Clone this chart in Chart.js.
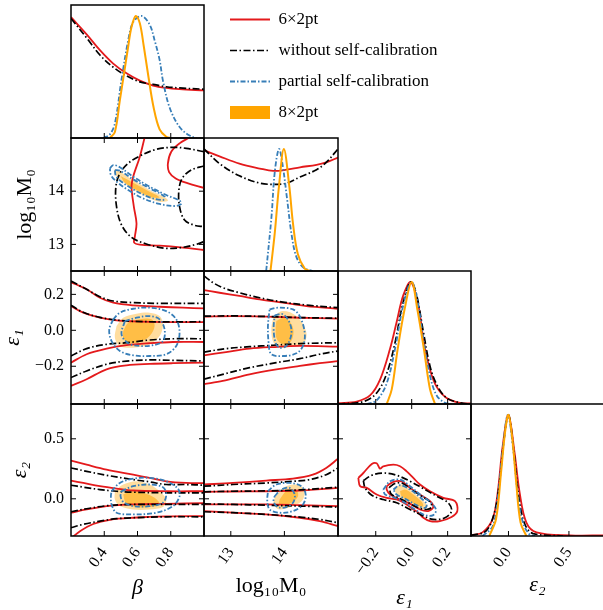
<!DOCTYPE html>
<html>
<head>
<meta charset="utf-8">
<script src="https://cdn.jsdelivr.net/npm/chart.js@4.4.1/dist/chart.umd.min.js"></script>
<style>
  body { margin: 0; width: 603px; height: 610px; overflow: hidden; position: relative; background: #fff; }
  canvas { position: absolute; }
</style>
</head>
<body>
<script>
// axes: beta, log10 M0, eps1, eps2
const axisNames = ['β', 'log₁₀M₀', 'ε₁', 'ε₂'];
const axisRanges = [[0.2, 1.0], [12.5, 15.0], [-0.41, 0.33], [-0.31, 0.79]];
const axisTicks = [[0.4, 0.6, 0.8], [13, 14], [-0.2, 0.0, 0.2], [0.0, 0.5]];
const tickDecimals = [1, 0, 1, 1];
const legendLabels = ['6×2pt', 'without self-calibration', 'partial self-calibration', '8×2pt'];

// 1D marginals [value, normalised density]
const betaRed = [[0.2,0.99],[0.294,0.85],[0.374,0.72],[0.454,0.61],[0.534,0.53],[0.614,0.47],[0.693,0.43],[0.773,0.41],[0.853,0.40],[1.0,0.39]];
const betaBlack = [[0.2,0.98],[0.294,0.82],[0.374,0.68],[0.454,0.58],[0.534,0.51],[0.614,0.46],[0.693,0.44],[0.773,0.42],[0.853,0.41],[1.0,0.40]];
const betaBlue = [[0.394,0],[0.434,0.03],[0.464,0.12],[0.504,0.48],[0.544,0.8],[0.574,0.95],[0.624,1.0],[0.673,0.93],[0.703,0.8],[0.733,0.64],[0.753,0.47],[0.793,0.25],[0.853,0.09],[0.913,0.02],[0.953,0]];
const betaOrange = [[0.434,0],[0.464,0.05],[0.494,0.31],[0.518,0.52],[0.544,0.75],[0.564,0.91],[0.59,1.0],[0.614,0.94],[0.638,0.75],[0.666,0.5],[0.697,0.25],[0.733,0.07],[0.773,0.01],[0.803,0]];

const logmRed = [[12.5,0.99],[12.79,0.94],[13.16,0.88],[13.54,0.84],[13.79,0.82],[14.04,0.83],[14.29,0.85],[14.6,0.87],[14.78,0.89],[15.0,0.93]];
const logmBlack = [[12.5,1.0],[12.79,0.88],[13.16,0.78],[13.54,0.72],[13.79,0.71],[14.04,0.72],[14.29,0.77],[14.6,0.83],[14.78,0.89],[15.0,1.0]];
const logmBlue = [[13.66,0],[13.76,0.45],[13.82,0.81],[13.9,1.0],[13.97,0.86],[14.05,0.59],[14.13,0.31],[14.22,0.12],[14.35,0.03],[14.53,0]];
const logmOrange = [[13.74,0],[13.82,0.31],[13.9,0.7],[13.99,1.0],[14.09,0.7],[14.16,0.39],[14.25,0.14],[14.38,0.02],[14.47,0]];

const e1Red = [[-0.41,0.006],[-0.306,0.02],[-0.232,0.07],[-0.176,0.2],[-0.121,0.45],[-0.084,0.67],[-0.047,0.89],[-0.005,1.0],[0.037,0.81],[0.065,0.53],[0.102,0.28],[0.139,0.14],[0.194,0.05],[0.268,0.01],[0.335,0.005]];
const e1Black = [[-0.41,0],[-0.269,0.02],[-0.195,0.09],[-0.139,0.25],[-0.093,0.5],[-0.056,0.78],[-0.019,0.97],[0,1.0],[0.028,0.89],[0.065,0.59],[0.102,0.31],[0.139,0.16],[0.194,0.05],[0.287,0.005],[0.335,0]];
const e1Blue = [[-0.25,0],[-0.195,0.03],[-0.139,0.17],[-0.093,0.45],[-0.056,0.75],[-0.019,0.96],[0.002,1.0],[0.031,0.86],[0.065,0.53],[0.102,0.23],[0.139,0.07],[0.185,0.01],[0.22,0]];
const e1Orange = [[-0.139,0],[-0.111,0.12],[-0.078,0.45],[-0.039,0.78],[0,1.0],[0.031,0.78],[0.068,0.45],[0.102,0.12],[0.13,0]];

const e2Red = [[-0.31,0.005],[-0.215,0.03],[-0.131,0.14],[-0.089,0.36],[-0.047,0.75],[0,1.0],[0.05,0.69],[0.092,0.36],[0.148,0.11],[0.232,0.03],[0.51,0.005],[0.79,0.005]];
const e2Black = [[-0.31,0.005],[-0.187,0.04],[-0.117,0.19],[-0.075,0.44],[-0.039,0.78],[0,1.0],[0.045,0.69],[0.084,0.33],[0.134,0.1],[0.204,0.02],[0.45,0]];
const e2Blue = [[-0.215,0],[-0.131,0.08],[-0.089,0.31],[-0.047,0.72],[-0.005,1.0],[0.042,0.69],[0.078,0.33],[0.12,0.11],[0.176,0.01],[0.22,0]];
const e2Orange = [[-0.159,0],[-0.103,0.14],[-0.061,0.53],[-0.028,0.86],[0,1.0],[0.031,0.81],[0.064,0.44],[0.1,0.11],[0.148,0]];

// 2D contours (95% and 68%)
const betaLogmRed = [
  [[0.643,15.01],[0.614,14.649],[0.574,14.273],[0.564,14.085],[0.578,13.709],[0.594,13.396],[0.584,13.145],[0.58,13.033],[0.614,12.995],[0.733,12.976],[0.873,12.939],[1.0,12.895]],
  [[0.913,15.01],[0.853,14.899],[0.803,14.743],[0.783,14.524],[0.79,14.36],[0.83,14.24],[0.9,14.15],[1.0,14.06]]
];
const betaLogmBlack = [
  [[1.0,14.743],[0.893,14.806],[0.813,14.825],[0.713,14.787],[0.614,14.662],[0.544,14.524],[0.494,14.336],[0.47,14.085],[0.474,13.709],[0.504,13.365],[0.564,13.133],[0.653,13.008],[0.773,12.926],[0.873,12.945],[0.953,13.001],[1.0,13.052]],
  [[1.0,14.474],[0.923,14.398],[0.869,14.242],[0.849,14.022],[0.853,13.709],[0.883,13.459],[0.943,13.359],[1.0,13.333]]
];
const betaLogmBlue = [
  [[0.434,14.43],[0.454,14.492],[0.494,14.449],[0.574,14.273],[0.673,14.085],[0.773,13.929],[0.853,13.822],[0.863,13.76],[0.823,13.722],[0.733,13.76],[0.633,13.866],[0.544,14.022],[0.474,14.179],[0.44,14.305],[0.434,14.43]],
  [[0.464,14.398],[0.494,14.386],[0.574,14.223],[0.673,14.054],[0.763,13.897],[0.753,13.835],[0.673,13.885],[0.574,14.035],[0.504,14.179],[0.47,14.286],[0.464,14.398]]
];
const betaLogmOrange = [
  [[0.458,14.411],[0.494,14.367],[0.574,14.21],[0.673,14.022],[0.763,13.885],[0.783,13.822],[0.733,13.803],[0.653,13.897],[0.564,14.054],[0.498,14.21],[0.464,14.323],[0.458,14.411]],
  [[0.498,14.286],[0.574,14.16],[0.673,13.991],[0.733,13.885],[0.683,13.885],[0.594,14.022],[0.524,14.16],[0.498,14.286]]
];

const betaE1Red = [
  [[0.2,0.268],[0.294,0.228],[0.374,0.181],[0.454,0.154],[0.574,0.139],[0.733,0.131],[0.873,0.126],[1.0,0.122]],
  [[0.2,0.135],[0.274,0.098],[0.374,0.07],[0.474,0.055],[0.574,0.05],[0.773,0.046],[1.0,0.046]],
  [[0.2,-0.18],[0.294,-0.133],[0.414,-0.102],[0.534,-0.083],[0.673,-0.072],[0.813,-0.065],[1.0,-0.065]],
  [[0.2,-0.309],[0.294,-0.272],[0.414,-0.217],[0.534,-0.195],[0.673,-0.187],[0.813,-0.183],[1.0,-0.18]]
];
const betaE1Black = [
  [[0.2,0.274],[0.294,0.228],[0.374,0.187],[0.454,0.163],[0.574,0.154],[0.733,0.15],[1.0,0.15]],
  [[0.2,0.14],[0.274,0.1],[0.374,0.072],[0.474,0.057],[0.574,0.05],[0.773,0.047],[1.0,0.048]],
  [[0.2,-0.143],[0.294,-0.102],[0.414,-0.078],[0.534,-0.069],[0.673,-0.054],[0.813,-0.047],[1.0,-0.047]],
  [[0.2,-0.263],[0.294,-0.226],[0.414,-0.189],[0.534,-0.171],[0.673,-0.165],[0.813,-0.167],[1.0,-0.171]]
];
const betaE1Blue = [
  [[0.454,0.061],[0.494,0.098],[0.574,0.12],[0.673,0.126],[0.773,0.107],[0.833,0.061],[0.853,-0.013],[0.833,-0.087],[0.773,-0.133],[0.673,-0.143],[0.574,-0.139],[0.494,-0.115],[0.444,-0.06],[0.43,0.005],[0.454,0.061]],
  [[0.524,0.052],[0.594,0.07],[0.673,0.079],[0.733,0.061],[0.763,0.005],[0.753,-0.06],[0.693,-0.083],[0.614,-0.087],[0.544,-0.072],[0.504,-0.022],[0.524,0.052]]
];
const betaE1Orange = [
  [[0.474,0.024],[0.514,0.07],[0.594,0.092],[0.673,0.098],[0.733,0.079],[0.753,0.033],[0.733,-0.032],[0.673,-0.078],[0.574,-0.097],[0.494,-0.087],[0.464,-0.041],[0.474,0.024]],
  [[0.514,-0.004],[0.544,0.042],[0.614,0.061],[0.683,0.061],[0.703,0.024],[0.673,-0.032],[0.614,-0.065],[0.544,-0.069],[0.514,-0.041],[0.514,-0.004]]
];

const logmE1Red = [
  [[12.5,0.224],[12.79,0.209],[13.16,0.191],[13.54,0.172],[13.97,0.154],[14.41,0.135],[15.0,0.12]],
  [[12.5,0.076],[13.04,0.079],[13.66,0.076],[14.29,0.07],[15.0,0.065]],
  [[12.5,-0.139],[12.91,-0.121],[13.35,-0.102],[13.79,-0.093],[14.29,-0.087],[15.0,-0.091]],
  [[12.5,-0.3],[12.85,-0.282],[13.35,-0.245],[13.85,-0.217],[14.29,-0.198],[14.66,-0.183],[15.0,-0.171]]
];
const logmE1Black = [
  [[12.5,0.302],[12.67,0.265],[12.85,0.237],[13.16,0.209],[13.54,0.181],[13.97,0.157],[14.47,0.139],[15.0,0.126]],
  [[12.5,0.079],[13.04,0.08],[13.66,0.077],[14.29,0.071],[15.0,0.067]],
  [[12.5,-0.121],[12.91,-0.102],[13.35,-0.091],[13.79,-0.083],[14.29,-0.074],[15.0,-0.069]],
  [[12.5,-0.272],[12.85,-0.245],[13.35,-0.208],[13.85,-0.18],[14.29,-0.158],[14.66,-0.133],[15.0,-0.115]]
];
const logmE1Blue = [
  [[13.724,0.116],[13.88,0.126],[14.16,0.116],[14.285,0.079],[14.379,-0.013],[14.347,-0.087],[14.223,-0.128],[13.974,-0.143],[13.756,-0.133],[13.706,-0.069],[13.693,0.024],[13.724,0.116]],
  [[13.818,0.083],[13.974,0.089],[14.098,0.042],[14.129,-0.022],[14.036,-0.087],[13.911,-0.097],[13.836,-0.069],[13.799,0.005],[13.818,0.083]]
];
const logmE1Orange = [
  [[13.799,0.079],[13.974,0.107],[14.223,0.079],[14.41,-0.013],[14.347,-0.078],[14.16,-0.087],[13.942,-0.097],[13.799,-0.069],[13.756,0.005],[13.799,0.079]],
  [[13.849,0.052],[14.005,0.07],[14.16,0.015],[14.129,-0.06],[13.974,-0.078],[13.861,-0.05],[13.836,0.005],[13.849,0.052]]
];

const betaE2Red = [
  [[0.2,0.318],[0.294,0.284],[0.414,0.243],[0.574,0.201],[0.673,0.174],[0.773,0.146],[0.893,0.132],[1.0,0.13]],
  [[0.2,0.152],[0.274,0.132],[0.374,0.105],[0.474,0.085],[0.574,0.069],[0.773,0.063],[1.0,0.063]],
  [[0.2,-0.116],[0.294,-0.089],[0.414,-0.061],[0.574,-0.047],[0.773,-0.042],[1.0,-0.036]],
  [[0.2,-0.33],[0.254,-0.27],[0.334,-0.21],[0.434,-0.175],[0.574,-0.158],[0.773,-0.147],[1.0,-0.144]]
];
const betaE2Black = [
  [[0.2,0.257],[0.294,0.229],[0.414,0.196],[0.574,0.16],[0.673,0.141],[0.773,0.119],[0.893,0.119],[1.0,0.113]],
  [[0.2,0.113],[0.274,0.097],[0.374,0.077],[0.474,0.063],[0.574,0.055],[0.773,0.05],[1.0,0.05]],
  [[0.2,-0.108],[0.294,-0.083],[0.414,-0.058],[0.574,-0.047],[0.773,-0.047],[1.0,-0.047]],
  [[0.2,-0.241],[0.274,-0.213],[0.374,-0.186],[0.474,-0.166],[0.574,-0.158],[0.773,-0.15],[1.0,-0.15]]
];
const betaE2Blue = [
  [[0.444,0.063],[0.494,0.132],[0.574,0.168],[0.673,0.174],[0.773,0.146],[0.843,0.085],[0.853,0.022],[0.813,-0.061],[0.713,-0.116],[0.574,-0.13],[0.474,-0.116],[0.444,-0.047],[0.44,0.022],[0.444,0.063]],
  [[0.504,0.063],[0.574,0.105],[0.673,0.119],[0.753,0.097],[0.773,0.036],[0.753,-0.033],[0.673,-0.061],[0.574,-0.061],[0.514,-0.025],[0.498,0.022],[0.504,0.063]]
];
const betaE2Orange = [
  [[0.464,0.063],[0.514,0.119],[0.594,0.146],[0.673,0.119],[0.733,0.063],[0.773,-0.006],[0.753,-0.069],[0.673,-0.089],[0.574,-0.089],[0.494,-0.061],[0.464,-0.006],[0.464,0.063]],
  [[0.514,0.036],[0.564,0.063],[0.633,0.05],[0.703,0.008],[0.733,-0.047],[0.673,-0.069],[0.594,-0.069],[0.53,-0.033],[0.514,0.036]]
];

const logmE2Red = [
  [[12.5,0.119],[13.04,0.132],[13.66,0.152],[14.16,0.168],[14.53,0.201],[14.78,0.257],[15.0,0.334]],
  [[12.5,0.058],[13.04,0.061],[13.66,0.063],[14.29,0.069],[15.0,0.091]],
  [[12.5,-0.047],[13.04,-0.047],[13.66,-0.047],[14.29,-0.053],[15.0,-0.061]],
  [[12.5,-0.102],[13.04,-0.116],[13.66,-0.13],[14.29,-0.158],[14.66,-0.186],[15.0,-0.227]]
];
const logmE2Black = [
  [[12.5,0.105],[13.04,0.119],[13.66,0.132],[14.16,0.146],[14.47,0.16],[14.78,0.201],[15.0,0.257]],
  [[12.5,0.058],[13.04,0.063],[13.66,0.066],[14.29,0.074],[15.0,0.097]],
  [[12.5,-0.042],[13.04,-0.047],[13.66,-0.053],[14.29,-0.061],[15.0,-0.069]],
  [[12.5,-0.108],[13.04,-0.116],[13.66,-0.13],[14.29,-0.152],[14.66,-0.172],[15.0,-0.199]]
];
const logmE2Blue = [
  [[13.693,0.063],[13.849,0.119],[14.098,0.132],[14.316,0.105],[14.397,0.036],[14.347,-0.047],[14.16,-0.102],[13.911,-0.116],[13.724,-0.089],[13.681,-0.019],[13.693,0.063]],
  [[13.818,0.022],[13.943,0.077],[14.098,0.091],[14.192,0.036],[14.16,-0.033],[14.036,-0.069],[13.88,-0.069],[13.799,-0.025],[13.818,0.022]]
];
const logmE2Orange = [
  [[13.818,0.008],[13.974,0.091],[14.192,0.119],[14.36,0.085],[14.347,-0.006],[14.16,-0.061],[13.911,-0.089],[13.799,-0.047],[13.818,0.008]],
  [[13.911,-0.006],[14.036,0.063],[14.223,0.069],[14.254,0.022],[14.129,-0.033],[13.974,-0.061],[13.899,-0.042],[13.911,-0.006]]
];

const e1E2Red = [
  [[-0.297,0.174],[-0.269,0.215],[-0.222,0.29],[-0.195,0.296],[-0.176,0.251],[-0.158,0.271],[-0.102,0.284],[-0.065,0.271],[-0.028,0.229],[0.009,0.174],[0.046,0.119],[0.102,0.063],[0.176,0.008],[0.241,-0.02],[0.254,-0.102],[0.222,-0.152],[0.157,-0.186],[0.102,-0.186],[0.065,-0.158],[0.037,-0.116],[0.009,-0.089],[-0.028,-0.047],[-0.084,-0.006],[-0.139,0.008],[-0.195,0.036],[-0.25,0.091],[-0.287,0.105],[-0.297,0.174]],
  [[-0.139,0.105],[-0.102,0.141],[-0.056,0.146],[-0.009,0.091],[0.046,0.036],[0.102,-0.02],[0.12,-0.069],[0.092,-0.102],[0.046,-0.089],[-0.009,-0.042],[-0.065,-0.006],[-0.12,0.036],[-0.139,0.077],[-0.139,0.105]]
];
const e1E2Black = [
  [[-0.269,0.152],[-0.222,0.196],[-0.158,0.215],[-0.084,0.196],[-0.009,0.146],[0.064,0.085],[0.139,0.022],[0.203,-0.033],[0.222,-0.102],[0.185,-0.158],[0.12,-0.172],[0.055,-0.136],[-0.009,-0.089],[-0.084,-0.033],[-0.158,-0.006],[-0.222,0.03],[-0.259,0.091],[-0.269,0.152]],
  [[-0.124,0.097],[-0.093,0.127],[-0.056,0.132],[0,0.077],[0.055,0.022],[0.102,-0.025],[0.111,-0.069],[0.083,-0.089],[0.037,-0.075],[-0.019,-0.033],[-0.074,0.008],[-0.115,0.041],[-0.124,0.097]]
];
const e1E2Blue = [
  [[-0.158,0.077],[-0.12,0.146],[-0.065,0.16],[-0.009,0.105],[0.046,0.036],[0.102,-0.025],[0.135,-0.089],[0.12,-0.136],[0.074,-0.136],[0.018,-0.089],[-0.037,-0.033],[-0.093,0.008],[-0.148,0.036],[-0.158,0.077]],
  [[-0.102,0.077],[-0.065,0.113],[-0.009,0.077],[0.046,0.013],[0.083,-0.042],[0.074,-0.075],[0.027,-0.053],[-0.028,-0.006],[-0.084,0.036],[-0.102,0.077]]
];
const e1E2Orange = [
  [[-0.093,0.091],[-0.056,0.119],[0,0.063],[0.055,-0.006],[0.087,-0.061],[0.074,-0.089],[0.027,-0.075],[-0.028,-0.025],[-0.074,0.022],[-0.093,0.063],[-0.093,0.091]],
  [[-0.065,0.063],[-0.037,0.077],[0.009,0.036],[0.055,-0.025],[0.064,-0.061],[0.037,-0.061],[-0.009,-0.02],[-0.056,0.022],[-0.065,0.063]]
];

// styling
const RED = '#e41a1c', BLUE = '#377eb8', ORANGE = '#ffa500';
const orangeFills = ['rgba(255,165,0,0.38)', 'rgba(255,165,0,0.56)'];
const blackDash = [7, 2.5, 1.5, 2.5];
const blueDash = [5, 2, 1.5, 2];
const serif = "'Liberation Serif', 'DejaVu Serif', serif";
const colLeft = [71, 204, 338, 471], colW = [133, 134, 133, 133];
const rowTop = [5, 138, 271, 404], rowH = [133, 133, 133, 132];
const PAGE_BOTTOM = 620;
// x-title padding per axis, y-title padding per axis
const xTitlePad = [19, 21, 9, 22];
const yTitlePad = [0, 12, 0, 7];

function pts(path) { return path.map(p => ({x: p[0], y: p[1]})); }

function lineSet(path, color, dash, width) {
  return { data: pts(path), showLine: true, borderColor: color, borderWidth: width,
    borderDash: dash, pointRadius: 0, tension: 0.35, fill: false };
}
function areaSet(path, level) {
  return { data: pts(path), showLine: true, borderColor: 'rgba(0,0,0,0)', borderWidth: 0,
    backgroundColor: orangeFills[level], pointRadius: 0, tension: 0.35, fill: 'shape' };
}

function fmt(k, v) {
  const s = Math.abs(v).toFixed(tickDecimals[k]);
  return v < -1e-9 ? '−' + s : s;
}

// frame + inward ticks
const frameTicks = {
  id: 'frameTicks',
  afterDatasetsDraw(chart, args, opts) {
    const {ctx, chartArea: a} = chart;
    const sx = chart.scales.x, sy = chart.scales.y;
    const L = 5;
    ctx.save();
    ctx.strokeStyle = '#000';
    ctx.lineWidth = 1;
    ctx.beginPath();
    sx.ticks.forEach(t => {
      const px = sx.getPixelForValue(t.value);
      ctx.moveTo(px, a.bottom); ctx.lineTo(px, a.bottom - L);
      if (!opts.diag) { ctx.moveTo(px, a.top); ctx.lineTo(px, a.top + L); }
    });
    if (!opts.diag) {
      sy.ticks.forEach(t => {
        const py = sy.getPixelForValue(t.value);
        ctx.moveTo(a.left, py); ctx.lineTo(a.left + L, py);
        ctx.moveTo(a.right, py); ctx.lineTo(a.right - L, py);
      });
    }
    ctx.stroke();
    ctx.lineWidth = 1.5;
    ctx.strokeRect(a.left, a.top, a.right - a.left, a.bottom - a.top);
    ctx.restore();
  }
};

function axisCfg(k, isX, showLabels, size, showTitle) {
  return {
    type: 'linear',
    min: k === null ? 0 : axisRanges[k][0],
    max: k === null ? 1.09 : axisRanges[k][1],
    afterBuildTicks: s => { s.ticks = k === null ? [] : axisTicks[k].map(v => ({value: v})); },
    afterFit: s => {
      if (isX) s.height = size; else s.width = size;
      s.paddingTop = 0; s.paddingBottom = 0; s.paddingLeft = 0; s.paddingRight = 0;
    },
    grid: { display: false, drawTicks: false },
    border: { display: false },
    ticks: {
      display: showLabels, autoSkip: false, color: '#000',
      padding: isX ? 8 : 7,
      minRotation: isX ? 55 : 0, maxRotation: isX ? 55 : 0,
      font: { family: serif, size: 16 },
      callback: v => fmt(k, v)
    },
    title: {
      display: showTitle, text: k === null ? '' : axisNames[k], color: '#000',
      font: { family: serif, size: 22, style: k === 1 ? 'normal' : 'italic' },
      padding: isX ? { top: 0, bottom: xTitlePad[k] } : { top: yTitlePad[k], bottom: 0 }
    }
  };
}

function makePanel(r, c, series) {
  const diag = r === c;
  const left = c === 0 ? 0 : colLeft[c] - 2;
  const top = rowTop[r] - 2;
  const panelRight = colLeft[c] + colW[c];
  const panelBottom = rowTop[r] + rowH[r];
  const bottom = r === 3 ? PAGE_BOTTOM : panelBottom + 2;
  const cv = document.createElement('canvas');
  cv.width = panelRight + 2 - left;
  cv.height = bottom - top;
  cv.style.left = left + 'px';
  cv.style.top = top + 'px';
  document.body.appendChild(cv);

  const ds = [];
  if (diag) {
    ds.push(lineSet(series.orange, ORANGE, [], 2));
    ds.push(lineSet(series.blue, BLUE, blueDash, 1.8));
    ds.push(lineSet(series.black, '#000', blackDash, 1.7));
    ds.push(lineSet(series.red, RED, [], 1.8));
  } else {
    series.blue.forEach(p => ds.push(lineSet(p, BLUE, blueDash, 1.8)));
    series.black.forEach(p => ds.push(lineSet(p, '#000', blackDash, 1.7)));
    series.red.forEach(p => ds.push(lineSet(p, RED, [], 1.8)));
    series.orange.forEach((p, i) => ds.push(areaSet(p, i)));
  }

  const bottomRow = r === 3;
  const leftCol = c === 0;
  new Chart(cv, {
    type: 'scatter',
    data: { datasets: ds },
    options: {
      responsive: false, animation: false, events: [],
      layout: { padding: { top: 2, right: 2, left: 0, bottom: 0 } },
      scales: {
        x: axisCfg(c, true, bottomRow, bottom - panelBottom, bottomRow),
        y: axisCfg(diag ? null : r, false, leftCol && !diag, colLeft[c] - left, leftCol && !diag)
      },
      plugins: { legend: { display: false }, tooltip: { enabled: false }, frameTicks: { diag } }
    },
    plugins: [frameTicks]
  });
}

makePanel(0, 0, { red: betaRed, black: betaBlack, blue: betaBlue, orange: betaOrange });
makePanel(1, 1, { red: logmRed, black: logmBlack, blue: logmBlue, orange: logmOrange });
makePanel(2, 2, { red: e1Red, black: e1Black, blue: e1Blue, orange: e1Orange });
makePanel(3, 3, { red: e2Red, black: e2Black, blue: e2Blue, orange: e2Orange });
makePanel(1, 0, { red: betaLogmRed, black: betaLogmBlack, blue: betaLogmBlue, orange: betaLogmOrange });
makePanel(2, 0, { red: betaE1Red, black: betaE1Black, blue: betaE1Blue, orange: betaE1Orange });
makePanel(2, 1, { red: logmE1Red, black: logmE1Black, blue: logmE1Blue, orange: logmE1Orange });
makePanel(3, 0, { red: betaE2Red, black: betaE2Black, blue: betaE2Blue, orange: betaE2Orange });
makePanel(3, 1, { red: logmE2Red, black: logmE2Black, blue: logmE2Blue, orange: logmE2Orange });
makePanel(3, 2, { red: e1E2Red, black: e1E2Black, blue: e1E2Blue, orange: e1E2Orange });

// legend
const legendStyles = [
  { color: RED, dash: [], width: 1.8, style: 'line' },
  { color: '#000', dash: blackDash, width: 1.7, style: 'line' },
  { color: BLUE, dash: blueDash, width: 1.8, style: 'line' },
  { color: ORANGE, dash: [], width: 0, style: 'rect' }
];
const lc = document.createElement('canvas');
lc.width = 262; lc.height = 300;
lc.style.left = '216px'; lc.style.top = '-3px';
document.body.appendChild(lc);
new Chart(lc, {
  type: 'scatter',
  data: { datasets: [] },
  options: {
    responsive: false, animation: false, events: [],
    scales: { x: { display: false }, y: { display: false } },
    plugins: {
      tooltip: { enabled: false },
      legend: {
        display: true, position: 'top', align: 'start',
        labels: {
          usePointStyle: true, pointStyleWidth: 40, boxHeight: 13, padding: 14,
          color: '#000', font: { family: serif, size: 17 },
          generateLabels: () => legendLabels.map((t, i) => ({
            text: t, fillStyle: legendStyles[i].color, strokeStyle: legendStyles[i].color,
            lineWidth: legendStyles[i].width, lineDash: legendStyles[i].dash,
            pointStyle: legendStyles[i].style, hidden: false, datasetIndex: i, fontColor: '#000'
          }))
        }
      }
    }
  }
});
</script>
</body>
</html>
